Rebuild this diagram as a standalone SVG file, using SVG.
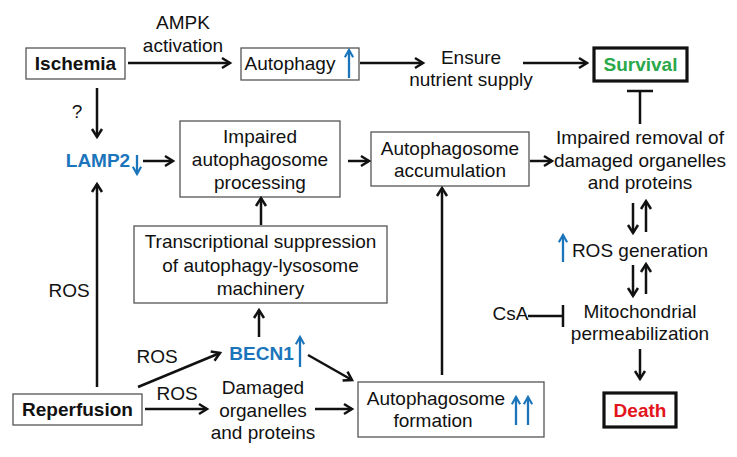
<svg xmlns="http://www.w3.org/2000/svg" width="737" height="457" viewBox="0 0 737 457">
<style>
text{font-family:"Liberation Sans",Arial,sans-serif;font-size:19px;fill:#111;text-anchor:middle}
.b{font-weight:bold}
.blue{fill:#1b75bb}
.box{fill:#fff;stroke:#555;stroke-width:1.3}
.tbox{fill:#fff;stroke:#111;stroke-width:3.2}
.c{stroke:#111;stroke-width:2.5;fill:none}
.bc{stroke:#1b75bb;stroke-width:2.3;fill:none}
</style>
<defs>
<marker id="ah" viewBox="0 0 12 12" refX="10" refY="6" markerWidth="12" markerHeight="12" markerUnits="userSpaceOnUse" orient="auto" overflow="visible">
<path d="M2,1 L10,6 L2,11" fill="none" stroke="#111" stroke-width="2.5"/>
</marker>
<marker id="bh" viewBox="0 0 12 12" refX="10" refY="6" markerWidth="11" markerHeight="11" markerUnits="userSpaceOnUse" orient="auto" overflow="visible">
<path d="M2,1.5 L10,6 L2,10.5" fill="none" stroke="#1b75bb" stroke-width="2.3"/>
</marker>
</defs>
<rect width="737" height="457" fill="#fff"/>

<g id="ischemia"><rect class="box" x="26" y="48" width="99" height="31"/><text class="b" x="75.5" y="70">Ischemia</text></g>
<g id="autophagy"><rect class="box" x="241" y="48" width="118" height="32"/><text x="290" y="70">Autophagy</text><line class="bc" x1="349" y1="78" x2="349" y2="50" marker-end="url(#bh)"/></g>
<g id="ensure"><text x="471" y="64">Ensure</text><text x="471" y="86">nutrient supply</text></g>
<g id="survival"><rect class="tbox" x="594" y="48" width="93" height="33"/><text class="b" x="640.5" y="71" style="fill:#2aa84a">Survival</text></g>
<g id="lamp2"><text class="b blue" x="98" y="167">LAMP2</text><line class="bc" x1="137" y1="155" x2="137" y2="174" marker-end="url(#bh)"/></g>
<g id="impaired_proc"><rect class="box" x="180" y="121" width="160" height="76"/><text x="260" y="143">Impaired</text><text x="260" y="166">autophagosome</text><text x="260" y="189">processing</text></g>
<g id="accum"><rect class="box" x="371" y="132" width="158" height="54"/><text x="450" y="155">Autophagosome</text><text x="450" y="177">accumulation</text></g>
<g id="impaired_removal"><text x="640" y="144">Impaired removal of</text><text x="640" y="167">damaged organelles</text><text x="640" y="189">and proteins</text></g>
<g id="transcr"><rect class="box" x="134" y="226" width="253" height="77"/><text x="260.5" y="248">Transcriptional suppression</text><text x="260.5" y="272">of autophagy-lysosome</text><text x="260.5" y="295">machinery</text></g>
<g id="ros_gen"><text x="640" y="257">ROS generation</text><line class="bc" x1="563" y1="262" x2="563" y2="235" marker-end="url(#bh)"/></g>
<g id="mito"><text x="640" y="318">Mitochondrial</text><text x="640" y="340">permeabilization</text></g>
<g id="csa"><text x="510.5" y="320">CsA</text></g>
<g id="becn1"><text class="b blue" x="261.5" y="360">BECN1</text><line class="bc" x1="300" y1="367" x2="300" y2="337" marker-end="url(#bh)"/></g>
<g id="reperfusion"><rect class="box" x="13" y="394" width="129" height="31"/><text class="b" x="77.5" y="416">Reperfusion</text></g>
<g id="damaged"><text x="263" y="394">Damaged</text><text x="263" y="417">organelles</text><text x="263" y="439">and proteins</text></g>
<g id="formation"><rect class="box" x="358" y="382" width="186" height="55"/><text x="436" y="405">Autophagosome</text><text x="433" y="427">formation</text><line class="bc" x1="516" y1="425" x2="516" y2="397" marker-end="url(#bh)"/><line class="bc" x1="528" y1="425" x2="528" y2="397" marker-end="url(#bh)"/></g>
<g id="death"><rect class="tbox" x="604" y="393" width="72" height="34"/><text class="b" x="640" y="417" style="fill:#e3141b">Death</text></g>

<g id="labels">
<text x="183" y="29">AMPK</text><text x="183" y="52">activation</text>
<text x="77" y="118">?</text>
<text x="69" y="297">ROS</text>
<text x="157" y="363">ROS</text>
<text x="177" y="400">ROS</text>
</g>

<g id="connectors">
<line class="c" x1="128" y1="63" x2="230" y2="63" marker-end="url(#ah)"/>
<line class="c" x1="360" y1="63" x2="423" y2="63" marker-end="url(#ah)"/>
<line class="c" x1="523" y1="63" x2="587" y2="63" marker-end="url(#ah)"/>
<line class="c" x1="97" y1="88" x2="97" y2="137" marker-end="url(#ah)"/>
<line class="c" x1="97" y1="387" x2="97" y2="184" marker-end="url(#ah)"/>
<line class="c" x1="143" y1="161" x2="173" y2="161" marker-end="url(#ah)"/>
<line class="c" x1="348" y1="161" x2="369" y2="161" marker-end="url(#ah)"/>
<line class="c" x1="530" y1="161" x2="552" y2="161" marker-end="url(#ah)"/>
<line class="c" x1="640" y1="124" x2="640" y2="91"/>
<line class="c" x1="627" y1="91" x2="653" y2="91"/>
<line class="c" x1="261" y1="225" x2="261" y2="198" marker-end="url(#ah)"/>
<line class="c" x1="259" y1="337" x2="259" y2="310" marker-end="url(#ah)"/>
<line class="c" x1="138" y1="387" x2="220" y2="353" marker-end="url(#ah)"/>
<line class="c" x1="308" y1="355" x2="352" y2="380" marker-end="url(#ah)"/>
<line class="c" x1="145" y1="409" x2="207" y2="409" marker-end="url(#ah)"/>
<line class="c" x1="315" y1="409" x2="352" y2="409" marker-end="url(#ah)"/>
<line class="c" x1="442" y1="375" x2="442" y2="188" marker-end="url(#ah)"/>
<line class="c" x1="633" y1="203" x2="633" y2="233" marker-end="url(#ah)"/>
<line class="c" x1="646" y1="232" x2="646" y2="201" marker-end="url(#ah)"/>
<line class="c" x1="633" y1="265" x2="633" y2="296" marker-end="url(#ah)"/>
<line class="c" x1="646" y1="294" x2="646" y2="264" marker-end="url(#ah)"/>
<line class="c" x1="528" y1="316" x2="563" y2="316"/>
<line class="c" x1="563" y1="305" x2="563" y2="327"/>
<line class="c" x1="640" y1="349" x2="640" y2="379" marker-end="url(#ah)"/>
</g>
</svg>
